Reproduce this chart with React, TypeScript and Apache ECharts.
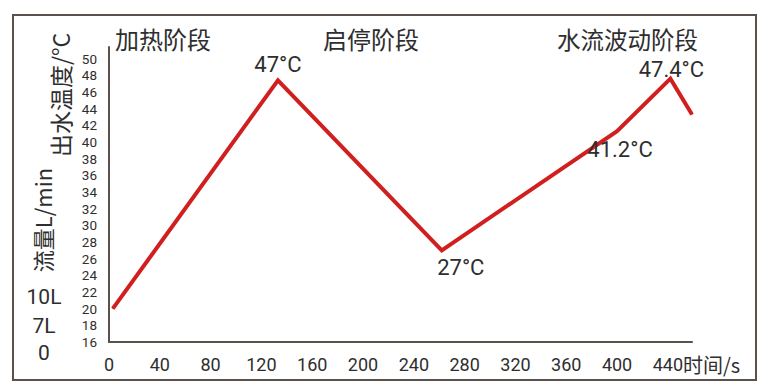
import React, { useEffect, useRef } from 'react';
import * as echarts from 'echarts';

// Data
const times = [3, 133, 262, 400, 442, 459];
const temps = [20, 47.4, 27, 41.3, 47.6, 43.3];
const pointLabels = ['', '47°C', '27°C', '41.2°C', '47.4°C', ''];
const stageLabels = ['加热阶段', '启停阶段', '水流波动阶段'];
const flowLabels = ['10L', '7L', '0'];
const yName = '出水温度/°C';
const flowName = '流量L/min';
const xName = '时间/s';

const CJK = '"Noto Sans CJK SC", "Noto Sans", sans-serif';
const LAT = 'Roboto, "Liberation Sans", sans-serif';
const TXT = '#2e2e2e';
const AXIS = '#5a514d';

const labelCfg: any[] = [
  { show: false },
  { show: true, position: 'top', distance: 5 },
  { show: true, position: 'bottom', distance: 7, offset: [19, 0] },
  { show: true, position: 'bottom', distance: 8, offset: [3, 0] },
  { show: true, position: 'top', distance: 0, offset: [1, 1] },
  { show: false },
];

export default function App() {
  const ref = useRef<HTMLDivElement>(null);
  useEffect(() => {
    if (!ref.current) return;
    const chart = echarts.init(ref.current, null, { renderer: 'svg' });
    const seriesData = times.map((t, i) => ({
      value: [t, temps[i]],
      label: {
        ...labelCfg[i],
        formatter: () => pointLabels[i],
        fontSize: 22,
        lineHeight: 20,
        color: TXT,
        fontFamily: LAT,
      },
    }));
    const stageX = [115, 323, 557];
    const stageY = [38, 38, 39];
    const stageSize = [24, 24, 23.5];
    const flowY = [297, 326, 353];
    chart.setOption({
      animation: false,
      backgroundColor: '#ffffff',
      grid: { left: 109, top: 47, right: 77, bottom: 50, containLabel: false },
      xAxis: {
        type: 'value',
        min: 0,
        max: 459,
        interval: 40,
        axisLine: { show: true, lineStyle: { color: AXIS, width: 2 } },
        axisTick: { show: false },
        splitLine: { show: false },
        axisLabel: {
          margin: 13,
          fontSize: 18,
          lineHeight: 18,
          color: TXT,
          fontFamily: LAT,
          formatter: (v: number) => (v % 40 === 0 ? String(v) : ''),
        },
      },
      yAxis: {
        type: 'value',
        min: 16,
        max: 51.4,
        interval: 2,
        axisLine: { show: true, lineStyle: { color: AXIS, width: 2 } },
        axisTick: { show: false },
        splitLine: { show: false },
        axisLabel: {
          margin: 12,
          fontSize: 13.5,
          lineHeight: 14,
          color: TXT,
          fontFamily: LAT,
          formatter: (v: number) => (v % 2 === 0 ? String(v) : ''),
        },
      },
      series: [
        {
          type: 'line',
          data: seriesData,
          symbol: 'circle',
          symbolSize: 1,
          showSymbol: true,
          itemStyle: { color: '#d11f1f' },
          lineStyle: { color: '#d11f1f', width: 4, join: 'miter' },
        },
      ],
      graphic: [
        {
          type: 'rect',
          shape: { x: 13, y: 15, width: 743, height: 365 },
          style: { fill: 'none', stroke: AXIS, lineWidth: 2 },
          silent: true,
        },
        ...stageLabels.map((s, i) => ({
          type: 'text',
          x: stageX[i],
          y: stageY[i],
          style: {
            text: s,
            font: `${stageSize[i]}px ${CJK}`,
            lineHeight: stageSize[i],
            fill: TXT,
            textAlign: 'left',
            textVerticalAlign: 'middle',
          },
        })),
        {
          type: 'text',
          x: 60,
          y: 95,
          rotation: Math.PI / 2,
          style: {
            text: yName,
            font: `23px ${CJK}`,
            lineHeight: 23,
            fill: TXT,
            textAlign: 'center',
            textVerticalAlign: 'middle',
          },
        },
        {
          type: 'text',
          x: 42,
          y: 220,
          rotation: Math.PI / 2,
          style: {
            text: flowName,
            font: `22px ${CJK}`,
            lineHeight: 22,
            fill: TXT,
            textAlign: 'center',
            textVerticalAlign: 'middle',
          },
        },
        ...flowLabels.map((s, i) => ({
          type: 'text',
          x: 44,
          y: flowY[i],
          style: {
            text: s,
            font: `21px ${LAT}`,
            lineHeight: 21,
            fill: TXT,
            textAlign: 'center',
            textVerticalAlign: 'middle',
          },
        })),
        {
          type: 'text',
          x: 683,
          y: 364,
          style: {
            text: xName,
            font: `20px ${CJK}`,
            lineHeight: 20,
            fill: TXT,
            textAlign: 'left',
            textVerticalAlign: 'middle',
          },
        },
      ],
    });
    return () => chart.dispose();
  }, []);
  return (
    <div
      ref={ref}
      style={{ position: 'fixed', left: 0, top: 0, width: 769, height: 392 }}
    />
  );
}
